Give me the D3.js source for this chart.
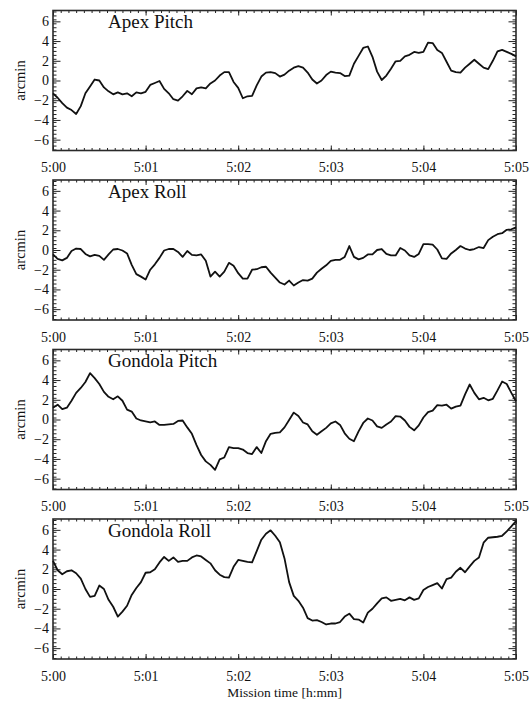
<!DOCTYPE html>
<html><head><meta charset="utf-8">
<script src="https://cdn.jsdelivr.net/npm/d3@7"></script>
<style>body{margin:0;background:#fff}svg{display:block}</style>
</head><body><svg id="chart" width="530" height="704"></svg>
<script>
// ---- data ----
const panelTitles = ["Apex Pitch", "Apex Roll", "Gondola Pitch", "Gondola Roll"];
const sampleStepSec = 3;
const timeSec = d3.range(0, 300 + sampleStepSec, sampleStepSec); // seconds after 5:00

const apexPitch = [
  -1.3,-1.75,-2.3,-2.75,-3.0,-3.4,-2.6,-1.3,-0.6,0.1,
  0.0,-0.7,-1.1,-1.4,-1.2,-1.4,-1.3,-1.6,-1.2,-1.3,
  -1.15,-0.45,-0.25,-0.05,-0.85,-1.3,-1.9,-2.05,-1.6,-1.05,
  -1.4,-0.8,-0.7,-0.8,-0.3,0.0,0.5,0.85,0.85,-0.15,
  -0.75,-1.8,-1.6,-1.55,-0.5,0.4,0.8,0.85,0.75,0.4,
  0.6,1.0,1.3,1.45,1.3,0.8,0.1,-0.3,0.0,0.55,
  0.9,0.8,0.75,0.45,0.5,1.7,2.5,3.3,3.45,2.4,
  0.9,0.05,0.5,1.2,1.95,2.0,2.45,2.6,2.9,2.8,
  2.9,3.85,3.8,3.1,2.8,1.9,1.0,0.85,0.8,1.3,
  1.7,2.1,1.7,1.3,1.15,2.0,2.95,3.1,2.9,2.7,
  2.45];

const apexRoll = [
  -0.45,-0.9,-1.05,-0.8,-0.1,0.15,0.1,-0.4,-0.65,-0.5,
  -0.6,-1.0,-0.45,0.05,0.1,-0.05,-0.35,-1.5,-2.45,-2.7,
  -3.0,-2.0,-1.45,-0.8,-0.05,0.1,0.1,-0.2,-0.7,-0.1,
  -0.5,-0.55,-0.45,-1.1,-2.7,-2.2,-2.7,-2.2,-1.3,-1.6,
  -2.35,-2.9,-2.9,-2.0,-1.95,-1.75,-1.7,-2.3,-2.8,-3.3,
  -3.5,-3.1,-3.6,-3.3,-3.05,-3.1,-2.9,-2.3,-1.9,-1.55,
  -1.1,-1.0,-1.0,-0.7,0.4,-0.7,-0.95,-0.8,-0.45,-0.45,
  0.0,0.1,-0.4,-0.55,-0.55,0.2,-0.05,-0.55,-0.7,-0.4,
  0.6,0.6,0.55,0.05,-0.85,-0.9,-0.35,0.0,0.4,0.15,
  0.0,0.1,0.3,0.2,1.0,1.35,1.6,1.7,2.05,2.1,
  2.3];

const gondolaPitch = [
  1.2,1.5,1.05,1.2,1.9,2.7,3.2,3.8,4.7,4.2,
  3.6,2.8,2.3,2.05,2.35,1.9,1.0,0.8,0.1,-0.1,
  -0.2,-0.3,-0.2,-0.55,-0.55,-0.5,-0.45,-0.15,-0.1,-0.8,
  -1.45,-2.6,-3.6,-4.25,-4.6,-5.1,-4.05,-3.85,-2.8,-2.9,
  -2.9,-3.05,-3.4,-3.5,-2.8,-3.4,-2.2,-1.45,-1.35,-1.3,
  -0.8,-0.05,0.7,0.35,-0.3,-0.5,-1.2,-1.55,-1.2,-0.85,
  -0.4,-0.2,-0.55,-1.4,-1.95,-2.2,-1.2,-0.35,0.1,-0.1,
  -0.7,-0.85,-0.5,-0.2,0.35,0.3,-0.1,-0.75,-1.1,-0.6,
  0.2,0.75,0.9,1.45,1.4,1.5,1.1,1.3,1.4,2.55,
  3.55,2.7,2.05,2.2,1.95,2.1,2.95,3.85,3.6,2.7,
  1.85];

const gondolaRoll = [
  2.85,1.9,1.5,1.8,1.9,1.6,1.05,0.0,-0.8,-0.7,
  0.35,0.0,-1.1,-1.8,-2.8,-2.3,-1.7,-0.6,0.1,0.7,
  1.65,1.7,2.0,2.7,3.25,2.85,3.2,2.75,2.85,2.85,
  3.2,3.4,3.3,2.95,2.6,1.9,1.45,1.2,1.15,2.25,
  2.95,2.85,2.75,2.7,3.85,5.0,5.6,5.95,5.4,4.75,
  3.1,0.7,-0.7,-1.2,-1.9,-2.95,-3.2,-3.15,-3.35,-3.6,
  -3.5,-3.5,-3.35,-2.8,-2.5,-3.05,-3.1,-3.4,-2.4,-2.0,
  -1.45,-0.95,-0.85,-1.2,-1.1,-1.0,-1.15,-0.85,-1.1,-0.95,
  -0.1,0.2,0.4,0.6,0.05,1.0,1.15,1.75,2.15,1.7,
  2.3,2.85,3.2,4.7,5.2,5.25,5.3,5.4,5.85,6.35,
  6.9];

const xTickSec = [0, 60, 120, 180, 240, 300];
const xTickLabels = ["5:00", "5:01", "5:02", "5:03", "5:04", "5:05"];
const yTickValues = [-6, -4, -2, 0, 2, 4, 6];
const yAxisTitle = "arcmin";
const xAxisTitle = "Mission time [h:mm]";

// ---- layout ----
const series = [apexPitch, apexRoll, gondolaPitch, gondolaRoll];
const left = 53, right = 516, panelH = 140;
const panelTops = [10.5, 180, 349.5, 519];
const FONT = "'Liberation Serif','Times New Roman',serif";
const ink = "#111";

const svg = d3.select("#chart");
svg.append("rect").attr("width", 530).attr("height", 704).attr("fill", "#fff");

const x = d3.scaleLinear().domain([0, 300]).range([left, right]);
const xMinor = d3.range(0, 301, 5);
const yMinor = d3.range(-7, 7.01, 0.4).map(v => +v.toFixed(2)).filter(v => v > -7.1 && v < 7.1);

series.forEach((vals, i) => {
  const top = panelTops[i], bottom = top + panelH;
  const y = d3.scaleLinear().domain([-7.1, 7.1]).range([bottom, top]);
  const g = svg.append("g");

  const styleAxis = sel => {
    sel.select(".domain").remove();
    sel.selectAll("line").attr("stroke", "#222").attr("stroke-width", 1);
    sel.selectAll("text").attr("font-family", FONT).attr("font-size", 14).attr("fill", ink);
  };

  // y axes (inward ticks)
  g.append("g").attr("transform", `translate(${left},0)`)
    .call(d3.axisLeft(y).tickValues(yMinor).tickSize(-3.5).tickFormat(""))
    .call(styleAxis);
  g.append("g").attr("transform", `translate(${left},0)`)
    .call(d3.axisLeft(y).tickValues(yTickValues).tickSize(-7.5).tickPadding(4))
    .call(styleAxis);
  g.append("g").attr("transform", `translate(${right},0)`)
    .call(d3.axisRight(y).tickValues(yMinor).tickSize(-3.5).tickFormat(""))
    .call(styleAxis);
  g.append("g").attr("transform", `translate(${right},0)`)
    .call(d3.axisRight(y).tickValues(yTickValues).tickSize(-7.5).tickFormat(""))
    .call(styleAxis);

  // x axes
  g.append("g").attr("transform", `translate(0,${bottom})`)
    .call(d3.axisBottom(x).tickValues(xMinor).tickSize(-2.5).tickFormat(""))
    .call(styleAxis);
  g.append("g").attr("transform", `translate(0,${bottom})`)
    .call(d3.axisBottom(x).tickValues(xTickSec).tickSize(-5).tickPadding(12)
      .tickFormat((d, k) => xTickLabels[k]))
    .call(styleAxis);
  g.append("g").attr("transform", `translate(0,${top})`)
    .call(d3.axisTop(x).tickValues(xMinor).tickSize(-2.5).tickFormat(""))
    .call(styleAxis);
  g.append("g").attr("transform", `translate(0,${top})`)
    .call(d3.axisTop(x).tickValues(xTickSec).tickSize(-5).tickFormat(""))
    .call(styleAxis);

  // frame
  g.append("rect").attr("x", left).attr("y", top)
    .attr("width", right - left).attr("height", panelH)
    .attr("fill", "none").attr("stroke", "#2a2a2a").attr("stroke-width", 1.6);

  // data line
  g.append("path")
    .datum(vals.map((v, k) => [timeSec[k], v]))
    .attr("fill", "none").attr("stroke", "#111").attr("stroke-width", 1.8)
    .attr("stroke-linejoin", "round")
    .attr("d", d3.line().x(d => x(d[0])).y(d => y(d[1])));

  // title
  g.append("text").attr("x", left + 55).attr("y", top + 17.5)
    .attr("font-family", FONT).attr("font-size", 19).attr("fill", ink)
    .text(panelTitles[i]);

  // y label
  g.append("text")
    .attr("transform", `translate(25,${(top + bottom) / 2}) rotate(-90)`)
    .attr("text-anchor", "middle")
    .attr("font-family", FONT).attr("font-size", 14.5).attr("fill", ink)
    .text(yAxisTitle);
});

svg.append("text").attr("x", (left + right) / 2).attr("y", 697)
  .attr("text-anchor", "middle")
  .attr("font-family", FONT).attr("font-size", 13.5).attr("fill", ink)
  .text(xAxisTitle);
</script>
</body></html>
